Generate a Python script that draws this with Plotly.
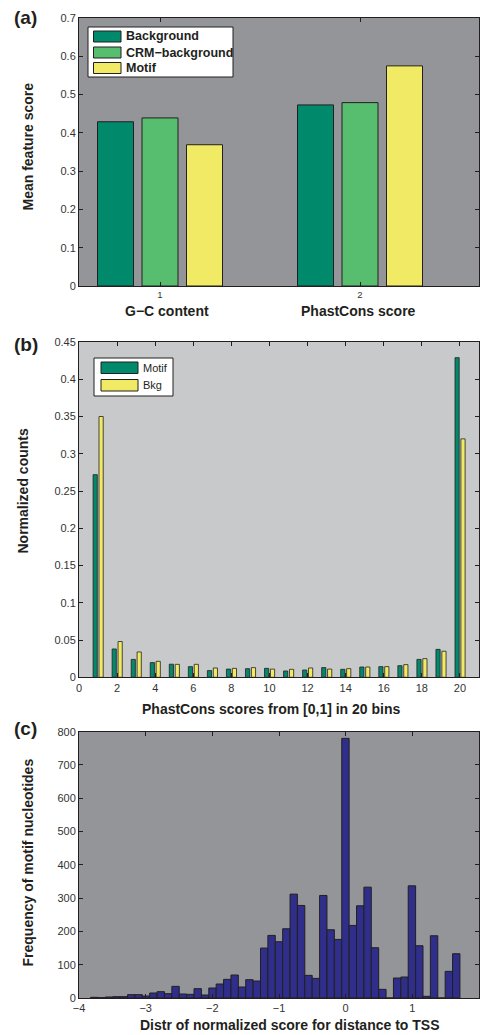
import plotly.graph_objects as go

# ---------------- data ----------------
# Panel (a)
features = ["G\u2212C content", "PhastCons score"]
feature_pos = [1, 2]
a_series = ["Background", "CRM\u2212background", "Motif"]
a_background = [0.429, 0.473]
a_crm_background = [0.439, 0.479]
a_motif = [0.369, 0.575]

# Panel (b)
b_series = ["Motif", "Bkg"]
b_bins = list(range(1, 21))
b_motif = [0.272, 0.038, 0.024, 0.0197, 0.0176, 0.0143, 0.009, 0.011, 0.0116, 0.012,
           0.0085, 0.0098, 0.013, 0.0107, 0.0138, 0.0143, 0.0156, 0.024, 0.0375, 0.429]
b_bkg = [0.350, 0.048, 0.034, 0.0214, 0.0174, 0.0174, 0.0125, 0.012, 0.013, 0.011,
         0.0107, 0.0125, 0.011, 0.0116, 0.0138, 0.0143, 0.017, 0.025, 0.035, 0.320]

# Panel (c) histogram: 50 bins
c_bin_start = -3.826
c_bin_width = 0.1108
c_counts = [2, 1, 3, 4, 4, 10, 10, 6, 15, 19,
            13, 35, 12, 11, 28, 9, 30, 42, 56, 69,
            33, 55, 51, 150, 188, 169, 208, 312, 278, 68,
            59, 308, 205, 176, 780, 218, 277, 333, 151, 26,
            0, 60, 63, 337, 157, 5, 187, 0, 80, 133]
c_centers = [c_bin_start + c_bin_width * (i + 0.5) for i in range(len(c_counts))]

# ---------------- styling ----------------
W, H = 480, 1035
FONT = "Liberation Sans, Arial, Helvetica, sans-serif"
EDGE = "#231f20"
TICKC = "#333333"
C_DKGREEN = "#00896b"
C_GREEN = "#56be6e"
C_YELLOW = "#f0ea64"
C_NAVY = "#2f2e8a"
a_colors = [C_DKGREEN, C_GREEN, C_YELLOW]
b_colors = [C_DKGREEN, C_YELLOW]


def px(x):
    return x / W


def py(y):
    return 1 - y / H


fig = go.Figure()

# Panel (a) bars
a_pitch = 0.2225
a_width = 0.18
for k, (name, vals, col) in enumerate(zip(a_series, [a_background, a_crm_background, a_motif], a_colors)):
    fig.add_trace(go.Bar(
        x=feature_pos, y=vals, name=name, xaxis="x", yaxis="y",
        width=a_width, offset=(k - 1) * a_pitch - a_width / 2,
        marker=dict(color=col, line=dict(color=EDGE, width=1)),
        showlegend=False,
    ))

# Panel (b) bars
b_width = 0.22
for name, vals, col, shift in zip(b_series, [b_motif, b_bkg], b_colors, [-0.15, 0.16]):
    fig.add_trace(go.Bar(
        x=b_bins, y=vals, name=name, xaxis="x2", yaxis="y2",
        width=b_width, offset=shift - b_width / 2,
        marker=dict(color=col, line=dict(color=EDGE, width=0.8)),
        showlegend=False,
    ))

# Panel (c) histogram
fig.add_trace(go.Bar(
    x=c_centers, y=c_counts, xaxis="x3", yaxis="y3", showlegend=False,
    width=c_bin_width, name="Motif nucleotides",
    marker=dict(color=C_NAVY, line=dict(color=EDGE, width=1)),
))

axis_common = dict(
    showline=True, linecolor=EDGE, linewidth=1, mirror="ticks",
    ticks="inside", ticklen=4, tickcolor=EDGE, tickwidth=1,
    showgrid=False, zeroline=False, automargin=False,
    tickfont=dict(family=FONT, size=11, color=TICKC),
)

# domains
dom_x = [px(79), px(479)]
dom_a = [py(286), py(18)]
dom_b = [py(677.3), py(342)]
dom_c = [py(998), py(731.7)]

fig.update_layout(
    width=W, height=H,
    margin=dict(l=0, r=0, t=0, b=0),
    paper_bgcolor="white",
    plot_bgcolor="#939598",
    barmode="overlay",
    showlegend=False,
    font=dict(family=FONT, color=TICKC),
    xaxis=dict(domain=dom_x, anchor="y", range=[0.595, 2.595], tickvals=feature_pos,
               **{**axis_common, "tickfont": dict(family=FONT, size=9.5, color=TICKC)}),
    yaxis=dict(domain=dom_a, anchor="x", range=[0, 0.7], dtick=0.1, **axis_common),
    xaxis2=dict(domain=dom_x, anchor="y2", range=[0, 21], tickvals=list(range(0, 21, 2)), **axis_common),
    yaxis2=dict(domain=dom_b, anchor="x2", range=[0, 0.45], dtick=0.05, **axis_common),
    xaxis3=dict(domain=dom_x, anchor="y3", range=[-4, 2], dtick=1, **axis_common),
    yaxis3=dict(domain=dom_c, anchor="x3", range=[0, 800], dtick=100, **axis_common),
)

shapes = []
annots = []

# panel (b) has a lighter background
shapes.append(dict(type="rect", xref="x2 domain", yref="y2 domain", x0=0, x1=1, y0=0, y1=1,
                   fillcolor="#c8c9cb", line=dict(width=0), layer="below"))


def legend_box(x0, y0, x1, y1, px0, px1, rows, names, colors, font):
    shapes.append(dict(type="rect", xref="paper", yref="paper",
                       x0=px(x0), x1=px(x1), y0=py(y1), y1=py(y0),
                       fillcolor="white", line=dict(color=EDGE, width=1), layer="above"))
    for (r0, r1), name, col in zip(rows, names, colors):
        shapes.append(dict(type="rect", xref="paper", yref="paper",
                           x0=px(px0), x1=px(px1), y0=py(r1), y1=py(r0),
                           fillcolor=col, line=dict(color=EDGE, width=1), layer="above"))
        annots.append(dict(text=name, x=px(px1 + 3), y=py((r0 + r1) / 2), xref="paper", yref="paper",
                           xanchor="left", yanchor="middle", showarrow=False, font=font))


legend_box(88, 27, 233, 77, 93.5, 121, [(31, 42), (47, 58), (62.5, 73.5)], a_series, a_colors,
           dict(family=FONT, size=12.5, color=EDGE, weight="bold"))
legend_box(94, 358, 173, 396, 101, 138, [(362, 373.5), (379.5, 391)], b_series, b_colors,
           dict(family=FONT, size=11, color=EDGE))

title_font = dict(family=FONT, size=14, color=EDGE, weight="bold")
panel_font = dict(family=FONT, size=19, color=EDGE, weight="bold")
for lab, yc in [("(a)", 17.7), ("(b)", 345), ("(c)", 728)]:
    annots.append(dict(text=lab, x=px(12), y=py(yc), xref="paper", yref="paper",
                       xanchor="left", yanchor="middle", showarrow=False, font=panel_font))
# y titles
for txt, xc, yc in [("Mean feature score", 27.5, 147),
                    ("Normalized counts", 22.5, 491),
                    ("Frequency of motif nucleotides", 27.5, 863)]:
    annots.append(dict(text=txt, x=px(xc), y=py(yc), xref="paper", yref="paper", textangle=-90,
                       xanchor="center", yanchor="middle", showarrow=False, font=title_font))
# x titles
for txt, xc, yc in [(features[0], 167, 311), (features[1], 358, 311),
                    ("PhastCons scores from [0,1] in 20 bins", 271, 709),
                    ("Distr of normalized score for distance to TSS", 290, 1025)]:
    annots.append(dict(text=txt, x=px(xc), y=py(yc), xref="paper", yref="paper",
                       xanchor="center", yanchor="middle", showarrow=False, font=title_font))

fig.update_layout(shapes=shapes, annotations=annots)

fig.write_html(
    "out.html",
    config={"displayModeBar": False},
    post_script="document.body.style.margin='0';document.body.style.padding='0';"
                "document.body.style.overflow='hidden';",
)
